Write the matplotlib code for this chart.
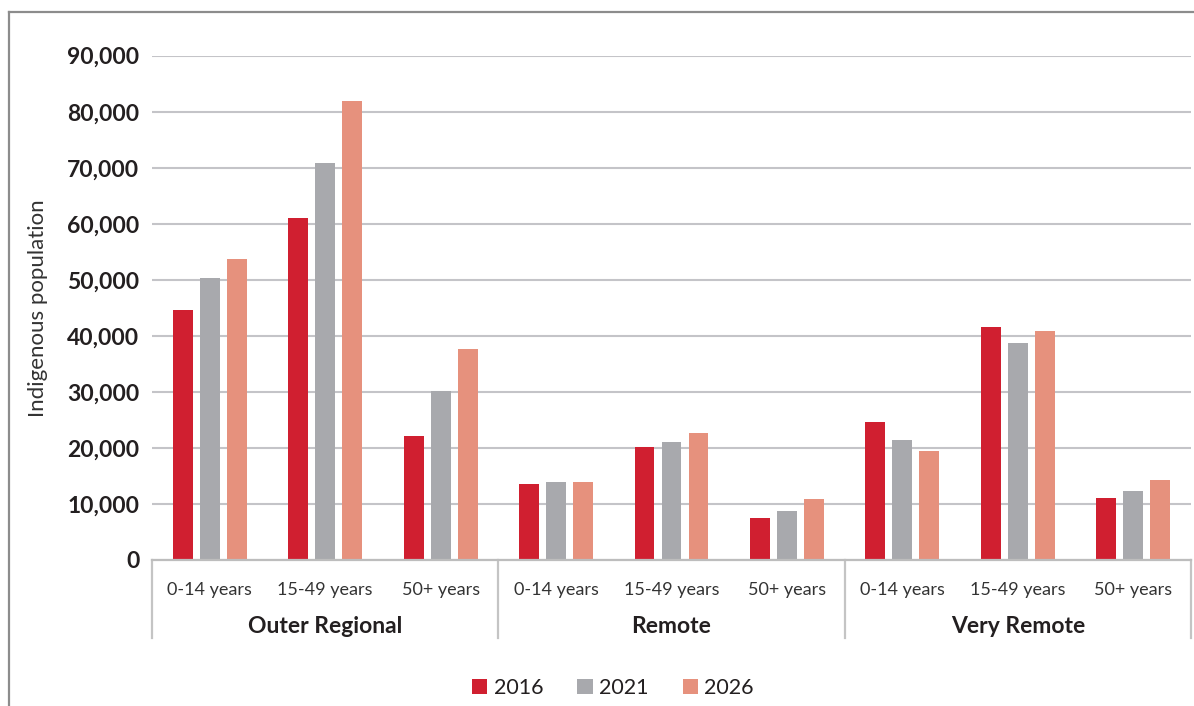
"""
Indigenous population by remoteness area and age group, 2016 / 2021 / 2026
"""

import matplotlib
matplotlib.use('Agg')
import matplotlib.pyplot as plt
from matplotlib.patches import Patch
from matplotlib.lines import Line2D
import numpy as np

plt.rcParams['font.family'] = ['Lato', 'DejaVu Sans']

# 데이터
regions = ['Outer Regional', 'Remote', 'Very Remote']
age_groups = ['0-14 years', '15-49 years', '50+ years']
years = ['2016', '2021', '2026']

pop_2016 = [44600, 61000, 22200, 13600, 20200, 7500, 24700, 41600, 11100]
pop_2021 = [50300, 70900, 30200, 14000, 21100, 8700, 21500, 38800, 12400]
pop_2026 = [53800, 81900, 37700, 14000, 22700, 10800, 19500, 40900, 14300]

y_ticks = [0, 10000, 20000, 30000, 40000, 50000, 60000, 70000, 80000, 90000]

COLORS = ['#D01F30', '#A8A9AD', '#E6917D']
GRID_COLOR = '#C4C4C8'
TEXT_COLOR = '#231F20'

fig = plt.figure(figsize=(11.94, 7.06), dpi=100)
ax = fig.add_axes([152 / 1194, 146 / 706, 1039 / 1194, 504.3 / 706])

n_cat = len(regions) * len(age_groups)
x = np.arange(n_cat)
bar_w = 0.173
offset = 0.234

for i, (vals, c) in enumerate(zip([pop_2016, pop_2021, pop_2026], COLORS)):
    ax.bar(x + (i - 1) * offset, vals, width=bar_w, color=c, zorder=3)

ax.set_xlim(-0.5, n_cat - 0.5)
ax.set_ylim(0, 90000)
ax.set_yticks(y_ticks)
ax.set_yticklabels([f'{v:,}' for v in y_ticks], fontsize=16.5, fontweight='bold', color=TEXT_COLOR)
ax.tick_params(axis='y', length=0, pad=9)
ax.grid(True, axis='y', color=GRID_COLOR, linewidth=1.5, zorder=0)

# x축 라벨 (연령대)
ax.set_xticks(x)
ax.set_xticklabels(age_groups * len(regions), fontsize=13, color='#333333')
ax.tick_params(axis='x', length=0, pad=16)

for s in ['left', 'right', 'top']:
    ax.spines[s].set_visible(False)
ax.spines['bottom'].set_color('#BDBDBD')
ax.spines['bottom'].set_linewidth(1.6)
ax.spines['bottom'].set_zorder(4)

# 지역 구분선 및 지역명
trans = ax.get_xaxis_transform()
for k in range(len(regions) + 1):
    xs = k * 3 - 0.5
    ax.add_line(Line2D([xs, xs], [0, -0.155], transform=trans, color='#C4C4C4',
                       linewidth=1.6, clip_on=False))
for k, name in enumerate(regions):
    ax.text(k * 3 + 1, -0.132, name, transform=trans, ha='center', va='center',
            fontsize=16.5, fontweight='bold', color=TEXT_COLOR)

ax.set_ylabel('Indigenous population', fontsize=16, fontweight='normal', color='#333333',
              labelpad=0)
ax.yaxis.set_label_coords(-0.1, 0.5)

# 바깥 테두리
fig.add_artist(Line2D([9 / 1194, 9 / 1194], [0, 1 - 12 / 706], transform=fig.transFigure,
                      color='#8C8C8C', linewidth=1.6))
fig.add_artist(Line2D([9 / 1194, 1], [1 - 12 / 706, 1 - 12 / 706], transform=fig.transFigure,
                      color='#8C8C8C', linewidth=1.6))

handles = [Patch(facecolor=c, edgecolor='none') for c in COLORS]
fig.legend(handles, years, loc='center', bbox_to_anchor=(613 / 1194, 1 - 688 / 706),
           ncol=3, frameon=False, fontsize=15.5, handlelength=0.7, handleheight=0.7,
           handletextpad=0.3, columnspacing=1.6, labelcolor=TEXT_COLOR)

fig.savefig('out.png', dpi=100)
